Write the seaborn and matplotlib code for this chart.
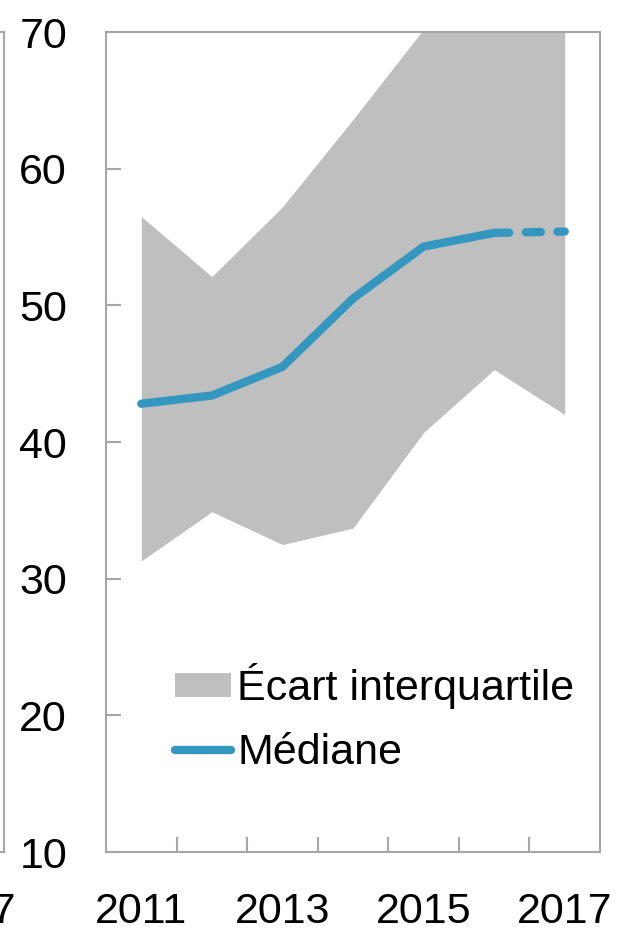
import numpy as np
import pandas as pd
import seaborn as sns
import matplotlib.pyplot as plt
from matplotlib.patches import Patch
from matplotlib.lines import Line2D

# data
years = [2011, 2012, 2013, 2014, 2015, 2016, 2017]
median = [42.8, 43.4, 45.5, 50.5, 54.3, 55.3, 55.4]
q_low = [31.3, 34.9, 32.5, 33.7, 40.7, 45.3, 42.0]
q_high = [56.5, 52.1, 57.2, 63.6, 70.2, 76.0, 77.0]
tick_labels = ["2011", "", "2013", "", "2015", "", "2017"]

sns.set_style("ticks")
plt.rcParams["font.family"] = ["Liberation Sans", "DejaVu Sans"]
plt.rcParams["text.color"] = "black"
plt.rcParams["xtick.labelcolor"] = "black"
plt.rcParams["ytick.labelcolor"] = "black"

df = pd.DataFrame({"x": np.arange(len(years)), "year": years, "median": median,
                   "low": q_low, "high": q_high})

blue = "#3497c0"
grey_fill = "#bfbfbf"
spine_col = "#a6a6a6"
fs = 31

fig = plt.figure(figsize=(6.21, 9.39), dpi=100)
ax = fig.add_axes([106 / 621, 1 - 852 / 939, 494 / 621, 820 / 939])
# neighbouring panel, mostly off the figure (only its right edge shows)
ax0 = fig.add_axes([-490 / 621, 1 - 852 / 939, 494 / 621, 820 / 939])


def style_axes(a, labels):
    a.set_xlim(-0.5, len(years) - 0.5)
    a.set_ylim(10, 70)
    a.set_yticks(range(10, 71, 10))
    for s in a.spines.values():
        s.set_visible(True)
        s.set_color(spine_col)
        s.set_linewidth(1.5)
    a.set_xticks(np.arange(len(years) - 1) + 0.5)
    a.set_xticklabels([])
    a.set_xticks(np.arange(len(years)), minor=True)
    a.set_xticklabels(labels, minor=True)
    a.tick_params(axis="x", which="major", direction="in", length=11, width=1.5,
                  color=spine_col)
    a.tick_params(axis="x", which="minor", length=0, pad=29, labelsize=fs,
                  labelcolor="black")
    a.tick_params(axis="y", direction="in", length=11, width=1.5, color=spine_col,
                  pad=28, labelsize=fs, labelcolor="black")
    a.set_xlabel("")
    a.set_ylabel("")


style_axes(ax0, [""] * 6 + ["2017"])
ax0.set_yticklabels([])
style_axes(ax, tick_labels)

ax.fill_between(df["x"], df["low"], df["high"], color=grey_fill, lw=0, zorder=1)
sns.lineplot(data=df.iloc[:6], x="x", y="median", ax=ax, color=blue, lw=6,
             solid_capstyle="round", zorder=3)
sns.lineplot(data=df.iloc[5:], x="x", y="median", ax=ax, color=blue, lw=6,
             dashes=False, zorder=3).lines[-1].set(linestyle=(0, (1.8, 2.0)),
                                                   dash_capstyle="round")
ax.set_xlabel("")
ax.set_ylabel("")

handles = [Patch(facecolor=grey_fill, edgecolor="none", label="Écart interquartile"),
           Line2D([], [], color=blue, lw=6, solid_capstyle="round", label="Médiane")]
ax.legend(handles=handles, loc="lower right", bbox_to_anchor=(1.0, 0.065),
          frameon=False, fontsize=fs, handlelength=1.3, handleheight=0.5,
          handletextpad=0.15, labelspacing=0.55, borderaxespad=0.2)

fig.savefig("out.png", dpi=100)
